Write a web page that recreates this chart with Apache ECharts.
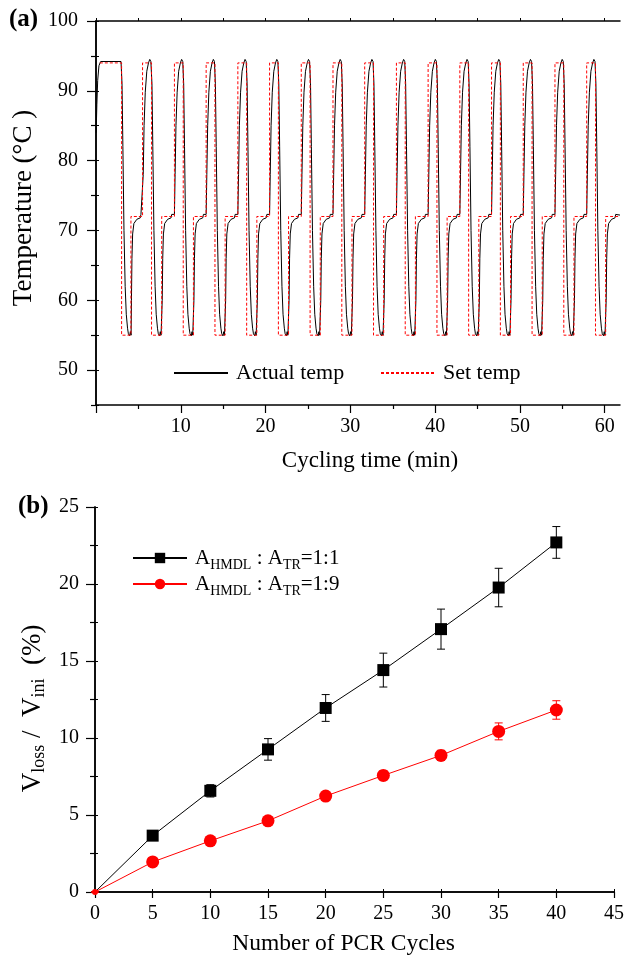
<!DOCTYPE html>
<html><head><meta charset="utf-8">
<script src="https://cdn.jsdelivr.net/npm/echarts@6/dist/echarts.min.js"></script>
<style>html,body{margin:0;padding:0;background:#fff}#c{width:627px;height:958px}</style>
</head><body><div id="c"></div>
<script>
// ---------- Panel (a): thermal cycling ----------
// Set temperature: step change times (min) and new set values (°C)
const setTimes = [0.45, 3.02, 4.12, 5.49,
  6.55, 7.75, 9.25, 10.29, 11.49, 12.99, 14.03, 15.23, 16.73, 17.77, 18.97, 20.47,
  21.51, 22.71, 24.21, 25.25, 26.45, 27.95, 28.99, 30.19, 31.69, 32.73, 33.93, 35.43,
  36.47, 37.67, 39.17, 40.21, 41.41, 42.91, 43.95, 45.15, 46.65, 47.69, 48.89, 50.39,
  51.43, 52.63, 54.13, 55.17, 56.37, 57.87, 58.91, 60.11, 61.8];
const setTemps = [94, 55, 72, 94,
  55, 72, 94, 55, 72, 94, 55, 72, 94, 55, 72, 94,
  55, 72, 94, 55, 72, 94, 55, 72, 94, 55, 72, 94,
  55, 72, 94, 55, 72, 94, 55, 72, 94, 55, 72, 94,
  55, 72, 94, 55, 72, 94, 55, 72, 72];
// Actual temperature: measured response shape after each set change ([minutes after change, °C])
const actualStart = [[0.02, 84], [0.1, 88], [0.2, 91.5], [0.35, 93.6], [0.55, 94.2], [2.95, 94.2]];
const actualAfterDrop = [[0, 94.2], [0.05, 91], [0.15, 82], [0.28, 70], [0.42, 62], [0.55, 58],
  [0.7, 56], [0.8, 55.2], [0.95, 54.9], [1.03, 55.5], [1.12, 55.0]];
const actualAfterRise72 = [[0, 55.0], [0.06, 60], [0.12, 66], [0.2, 69.5], [0.35, 71.0],
  [0.7, 71.6], [1.1, 71.8], [1.18, 72.3], [1.32, 72.3]];
const actualAfterRise94 = [[0, 72.3], [0.08, 78], [0.18, 85], [0.32, 89.8], [0.5, 92.8],
  [0.7, 94.0], [0.85, 94.5], [0.98, 94.2]];
const actualEnd = [[61.8, 72.2]];
const tempXLabels = [10, 20, 30, 40, 50, 60];
const tempYLabels = [50, 60, 70, 80, 90, 100];

// ---------- Panel (b): volume loss ----------
const cycles = [0, 5, 10, 15, 20, 25, 30, 35, 40];
const loss11 = [0, 3.66, 6.57, 9.26, 11.95, 14.41, 17.07, 19.77, 22.7];
const err11 = [0, 0.1, 0.4, 0.7, 0.87, 1.1, 1.3, 1.25, 1.03];
const loss19 = [0, 1.95, 3.32, 4.62, 6.23, 7.57, 8.87, 10.43, 11.82];
const err19 = [0, 0.08, 0.12, 0.12, 0.12, 0.3, 0.33, 0.55, 0.6];

// ---------- build ----------
const FONT = 'Liberation Serif';
const setData = setTimes.map((t, i) => [t, setTemps[i]]);
const actualData = actualStart.slice();
for (let i = 1; i < setTimes.length - 1; i++) {
  const shape = setTemps[i] === 55 ? actualAfterDrop : setTemps[i] === 72 ? actualAfterRise72 : actualAfterRise94;
  shape.forEach(p => actualData.push([setTimes[i] + p[0], p[1]]));
}
actualEnd.forEach(p => actualData.push(p));

function range(a, b, s) { const r = []; for (let v = a; v <= b + 1e-9; v += s) r.push(+v.toFixed(3)); return r; }
const blk = '#000';
const axisLine = { show: true, lineStyle: { color: blk, width: 1.5 } };
const lbl = (extra) => Object.assign({ color: blk, fontFamily: FONT, fontSize: 20 }, extra);

function errRender(color) {
  return function (params, api) {
    const x = api.value(0), lo = api.value(1), hi = api.value(2);
    const a = api.coord([x, lo]), b = api.coord([x, hi]);
    const w = 4;
    const st = { stroke: color, lineWidth: 1 };
    return { type: 'group', children: [
      { type: 'line', shape: { x1: a[0], y1: a[1], x2: b[0], y2: b[1] }, style: st },
      { type: 'line', shape: { x1: a[0] - w, y1: a[1], x2: a[0] + w, y2: a[1] }, style: st },
      { type: 'line', shape: { x1: b[0] - w, y1: b[1], x2: b[0] + w, y2: b[1] }, style: st }
    ] };
  };
}

const legSub = { s: { fontFamily: FONT, fontSize: 14, verticalAlign: 'bottom', lineHeight: 28, padding: [14, 0, 0, 0] } };
const titleSub = { s: { fontFamily: FONT, fontSize: 18, verticalAlign: 'bottom', lineHeight: 30, padding: [14, 0, 0, 0] } };
const hideSym = { color: 'rgba(0,0,0,0)', borderColor: 'rgba(0,0,0,0)', borderWidth: 0, opacity: 0 };

const option = {
  backgroundColor: '#fff',
  animation: false,
  textStyle: { fontFamily: FONT },
  grid: [
    { left: 96, right: 7, top: 21, bottom: 553, containLabel: false },
    { left: 95, right: 9, top: 507, bottom: 66, containLabel: false }
  ],
  xAxis: [
    { gridIndex: 0, type: 'value', min: 0, max: 61.8, position: 'bottom', axisLine,
      axisTick: { show: true, inside: false, length: 8, customValues: [0].concat(tempXLabels), lineStyle: { color: blk, width: 1.2 } },
      axisLabel: lbl({ customValues: tempXLabels, margin: 12 }), splitLine: { show: false },
      name: 'Cycling time (min)', nameLocation: 'middle', nameGap: 44,
      nameTextStyle: { color: blk, fontFamily: FONT, fontSize: 23, padding: [0, 0, 0, 24] } },
    { gridIndex: 0, type: 'value', min: 0, max: 61.8, position: 'bottom', axisLine: { show: false },
      axisTick: { show: true, length: 4, customValues: range(5, 55, 10), lineStyle: { color: blk, width: 1.2 } },
      axisLabel: { show: false }, splitLine: { show: false } },
    { gridIndex: 0, type: 'value', min: 0, max: 61.8, position: 'top', axisLine,
      axisTick: { show: true, length: 3, customValues: range(0, 60, 5), lineStyle: { color: blk } },
      axisLabel: { show: false }, splitLine: { show: false } },
    { gridIndex: 1, type: 'value', min: 0, max: 45, interval: 5, position: 'bottom', axisLine,
      axisTick: { show: true, length: 6, lineStyle: { color: blk, width: 1.2 } },
      axisLabel: lbl({ margin: 12 }), splitLine: { show: false },
      name: 'Number of PCR Cycles', nameLocation: 'middle', nameGap: 40,
      nameTextStyle: { color: blk, fontFamily: FONT, fontSize: 23.5, padding: [0, 22, 0, 0] } },
    { gridIndex: 1, type: 'value', min: 0, max: 45, interval: 5, position: 'top', axisLine,
      axisTick: { show: true, length: 3, lineStyle: { color: blk } },
      axisLabel: { show: false }, splitLine: { show: false } }
  ],
  yAxis: [
    { gridIndex: 0, type: 'value', min: 45, max: 100, position: 'left', axisLine,
      axisTick: { show: true, length: 9, customValues: tempYLabels, lineStyle: { color: blk, width: 1.2 } },
      axisLabel: lbl({ customValues: tempYLabels, margin: 18 }), splitLine: { show: false },
      name: 'Temperature (°C )', nameLocation: 'middle', nameGap: 58, nameRotate: 90,
      nameTextStyle: { color: blk, fontFamily: FONT, fontSize: 27, padding: [0, 0, 0, 10] } },
    { gridIndex: 0, type: 'value', min: 45, max: 100, position: 'left', axisLine: { show: false },
      axisTick: { show: true, length: 5, customValues: range(45, 95, 10), lineStyle: { color: blk, width: 1.2 } },
      axisLabel: { show: false }, splitLine: { show: false } },
    { gridIndex: 0, type: 'value', min: 45, max: 100, position: 'right', axisLine,
      axisTick: { show: true, length: 3, customValues: range(45, 100, 5), lineStyle: { color: blk } },
      axisLabel: { show: false }, splitLine: { show: false } },
    { gridIndex: 1, type: 'value', min: 0, max: 25, interval: 5, position: 'left', axisLine,
      axisTick: { show: true, length: 9, lineStyle: { color: blk, width: 1.2 } },
      minorTick: { show: true, splitNumber: 2, length: 5, lineStyle: { color: blk, width: 1.2 } },
      axisLabel: lbl({ margin: 16 }), splitLine: { show: false },
      name: 'V{s|loss} /  V{s|ini}  (%)', nameLocation: 'middle', nameGap: 40, nameRotate: 90,
      nameTextStyle: { color: blk, fontFamily: FONT, fontSize: 27, padding: [0, 18, 0, 0], rich: titleSub } },
    { gridIndex: 1, type: 'value', min: 0, max: 25, interval: 2.5, position: 'right', axisLine,
      axisTick: { show: true, length: 3, lineStyle: { color: blk } },
      axisLabel: { show: false }, splitLine: { show: false } }
  ],
  legend: [
    { data: ['Actual temp'], left: 173, top: 362, padding: 0, itemWidth: 54, itemHeight: 14, itemGap: 0,
      itemStyle: hideSym,
      textStyle: { color: blk, fontFamily: FONT, fontSize: 22, padding: [0, 0, 0, 3] } },
    { data: ['Set temp'], left: 380, top: 362, padding: 0, itemWidth: 54, itemHeight: 14, itemGap: 0,
      itemStyle: hideSym,
      textStyle: { color: blk, fontFamily: FONT, fontSize: 22, padding: [0, 0, 0, 3] } },
    { data: ['1:1'], left: 132, top: 544, padding: 0, itemWidth: 54, itemHeight: 13,
      formatter: () => 'A{s|HMDL} : A{s|TR}=1:1',
      textStyle: { color: blk, fontFamily: FONT, fontSize: 21, padding: [0, 0, 0, 3], rich: legSub } },
    { data: ['1:9'], left: 132, top: 570, padding: 0, itemWidth: 54, itemHeight: 13,
      formatter: () => 'A{s|HMDL} : A{s|TR}=1:9',
      textStyle: { color: blk, fontFamily: FONT, fontSize: 21, padding: [0, 0, 0, 3], rich: legSub } }
  ],
  graphic: [
    { type: 'text', left: 9, top: 7, style: { text: '(a)', fontFamily: FONT, fontWeight: 'bold', fontSize: 25, fill: blk } },
    { type: 'text', left: 18, top: 494, style: { text: '(b)', fontFamily: FONT, fontWeight: 'bold', fontSize: 25, fill: blk } }
  ],
  series: [
    { name: 'Actual temp', type: 'line', xAxisIndex: 0, yAxisIndex: 0, data: actualData,
      symbol: 'none', smooth: false, lineStyle: { color: blk, width: 1 }, itemStyle: { color: blk } },
    { name: 'Set temp', type: 'line', xAxisIndex: 0, yAxisIndex: 0, data: setData, step: 'end',
      symbol: 'none', lineStyle: { color: '#ff0000', width: 1, type: [3, 2] }, itemStyle: { color: '#ff0000' } },
    { name: 'err11', type: 'custom', xAxisIndex: 3, yAxisIndex: 3, renderItem: errRender(blk),
      data: cycles.map((c, i) => [c, loss11[i] - err11[i], loss11[i] + err11[i]]), z: 3 },
    { name: 'err19', type: 'custom', xAxisIndex: 3, yAxisIndex: 3, renderItem: errRender('#ff0000'),
      data: cycles.map((c, i) => [c, loss19[i] - err19[i], loss19[i] + err19[i]]), z: 3 },
    { name: '1:1', type: 'line', xAxisIndex: 3, yAxisIndex: 3,
      data: cycles.map((c, i) => i === 0 ? { value: [c, loss11[i]], symbolSize: 0 } : [c, loss11[i]]),
      symbol: 'rect', symbolSize: 12, lineStyle: { color: blk, width: 1 }, itemStyle: { color: blk }, z: 4 },
    { name: '1:9', type: 'line', xAxisIndex: 3, yAxisIndex: 3,
      data: cycles.map((c, i) => i === 0 ? { value: [c, loss19[i]], symbolSize: 6 } : [c, loss19[i]]),
      symbol: 'circle', symbolSize: 13, lineStyle: { color: '#ff0000', width: 1 }, itemStyle: { color: '#ff0000' }, z: 5 }
  ]
};
const chart = echarts.init(document.getElementById('c'), null, { renderer: 'canvas' });
chart.setOption(option);
</script></body></html>
